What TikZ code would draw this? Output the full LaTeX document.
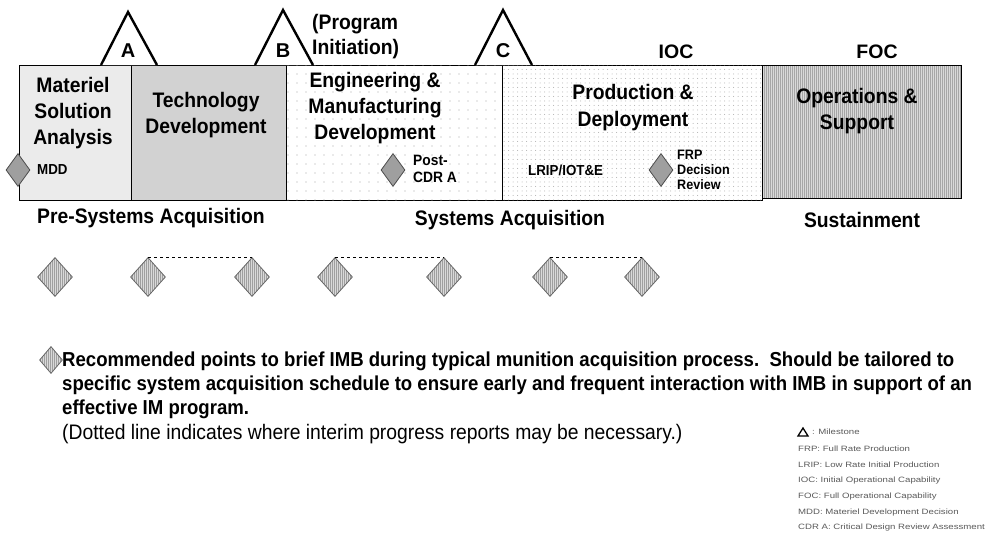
\documentclass[tikz,border=0pt]{standalone}
\usepackage{fontspec}
\setmainfont{Liberation Sans}
\newfontfamily\narrowfont[FakeStretch=0.92]{Liberation Sans}
\newfontfamily\widefont[FakeStretch=1.25]{Liberation Sans}
\usetikzlibrary{
    positioning,
    shapes.geometric,
    patterns.meta,
    calc
}

\begin{document}
\begin{tikzpicture}[
    x=1pt, y=-1pt,
    phasebox/.style={draw, line width=1.4pt, minimum height=135pt, inner sep=0pt, anchor=north west},
    phaselabel/.style={font=\fontsize{21}{26}\selectfont\narrowfont\bfseries, align=center, anchor=north, inner sep=0pt},
    smalllabel/.style={font=\fontsize{15}{17}\selectfont\narrowfont\bfseries, align=left, anchor=west, inner sep=0pt},
    eralabel/.style={font=\fontsize{21}{24}\selectfont\narrowfont\bfseries, inner sep=0pt},
    decision/.style={diamond, draw=black!70, fill=gray!75, line width=0.8pt, minimum width=24pt, minimum height=33pt, inner sep=0pt},
    briefpoint/.style={diamond, draw=black!60, line width=0.8pt, minimum width=35pt, minimum height=39pt, inner sep=0pt,
        preaction={fill=gray!30}, pattern={Lines[angle=90, distance=2pt, line width=0.6pt]}, pattern color=gray!75},
    milestone/.style={draw, line width=2.4pt, fill=white, line join=miter},
    msletter/.style={font=\fontsize{20}{20}\selectfont\bfseries, inner sep=0pt},
    interim/.style={dashed, line width=1pt},
    legend/.style={font=\fontsize{7.7}{9}\selectfont\widefont, text=gray!70!black, anchor=west, inner sep=0pt}
]
\useasboundingbox (0,0) rectangle (985,533);

% Phase bar
\node[phasebox, fill=gray!16, minimum width=112pt] (msa) at (19,65) {};
\node[phasebox, fill=gray!35, minimum width=155pt] (td) at (131,65) {};
\node[phasebox, fill=white, minimum width=216pt,
    postaction={pattern={Dots[distance=9pt, radius=0.55pt]}, pattern color=gray!70}] (emd) at (286,65) {};
\node[phasebox, fill=white, minimum width=260pt,
    postaction={pattern={Dots[distance=4.5pt, radius=0.5pt]}, pattern color=gray!65}] (pd) at (502,65) {};
\node[phasebox, minimum width=199pt, minimum height=133pt, preaction={fill=gray!30},
    pattern={Lines[angle=90, distance=2pt, line width=0.6pt]}, pattern color=gray!70] (os) at (762,65) {};

\node[phaselabel] (msa-txt) at (73,77) {Materiel\\Solution\\Analysis};
\node[phaselabel] (td-txt) at (206,92) {Technology\\Development};
\node[phaselabel] (emd-txt) at (375,72) {Engineering \&\\Manufacturing\\Development};
\node[phaselabel, font=\fontsize{21}{27}\selectfont\narrowfont\bfseries] (pd-txt) at (633,84) {Production \&\\Deployment};
\node[phaselabel] (os-txt) at (857,88) {Operations \&\\Support};

% Decision points inside the bar
\node[decision] (mdd) at (18,170) {};
\node[smalllabel, font=\fontsize{14.5}{17}\selectfont\narrowfont\bfseries] (mdd-txt) at (37,170) {MDD};
\node[decision] (pcdra) at (393,170) {};
\node[smalllabel] (pcdra-txt) at (413,169) {Post-\\CDR A};
\node[smalllabel, font=\fontsize{14.5}{17}\selectfont\narrowfont\bfseries] (lrip) at (528,170) {LRIP/IOT\&E};
\node[decision] (frp) at (661,170) {};
\node[smalllabel, font=\fontsize{13.7}{15}\selectfont\narrowfont\bfseries] (frp-txt) at (677,170) {FRP\\Decision\\Review};

% Milestones
\draw[milestone] (101,65) -- (128,12) -- (157,65);
\node[msletter] (ms-a) at (128,51) {A};
\draw[milestone] (255,65) -- (283,10) -- (313,65);
\node[msletter] (ms-b) at (283,51) {B};
\node[font=\fontsize{21}{25}\selectfont\narrowfont\bfseries, align=left, anchor=west, inner sep=0pt] (prog-init) at (312,37) {(Program\\Initiation)};
\draw[milestone] (475,65) -- (503,10) -- (532,65);
\node[msletter] (ms-c) at (503,51) {C};
\node[font=\fontsize{19.5}{20}\selectfont\bfseries] (ioc) at (676,52) {IOC};
\node[font=\fontsize{19.5}{20}\selectfont\bfseries] (foc) at (877,52) {FOC};

% Acquisition eras
\node[eralabel] (pre-sys) at (151,218) {Pre-Systems Acquisition};
\node[eralabel] (sys) at (510,220) {Systems Acquisition};
\node[eralabel] (sustain) at (862,220) {Sustainment};

% Recommended IMB brief points
\node[briefpoint] (bp1) at (55,277) {};
\node[briefpoint] (bp2) at (148,277) {};
\node[briefpoint] (bp3) at (252,277) {};
\node[briefpoint] (bp4) at (335,277) {};
\node[briefpoint] (bp5) at (444,277) {};
\node[briefpoint] (bp6) at (550,277) {};
\node[briefpoint] (bp7) at (642,277) {};

\draw[interim] (bp2.north) -- (bp3.north);
\draw[interim] (bp4.north) -- (bp5.north);
\draw[interim] (bp6.north) -- (bp7.north);

% Explanation
\node[briefpoint, minimum width=23pt, minimum height=27pt] (bp-key) at (51,360) {};
\node[font=\fontsize{20.2}{24}\selectfont\narrowfont\bfseries, align=left, anchor=north west, inner sep=0pt] (note) at (62,352)
    {Recommended points to brief IMB during typical munition acquisition process.\ \ Should be tailored to\\
     specific system acquisition schedule to ensure early and frequent interaction with IMB in support of an\\
     effective IM program.};
\node[font=\fontsize{21}{24}\selectfont\narrowfont, anchor=north west, inner sep=0pt] (dotted-note) at (62,424)
    {(Dotted line indicates where interim progress reports may be necessary.)};

% Legend
\draw[line width=1.3pt, fill=white] (798,436) -- (803,428) -- (808,436) -- cycle;
\node[legend] (lg-ms) at (812,432) {: Milestone};
\node[legend] (lg-frp) at (798,449) {FRP: Full Rate Production};
\node[legend] (lg-lrip) at (798,465) {LRIP: Low Rate Initial Production};
\node[legend] (lg-ioc) at (798,481) {IOC: Initial Operational Capability};
\node[legend] (lg-foc) at (798,497) {FOC: Full Operational Capability};
\node[legend] (lg-mdd) at (798,513) {MDD: Materiel Development Decision};
\node[legend] (lg-cdr) at (798,528) {CDR A: Critical Design Review Assessment};

\end{tikzpicture}
\end{document}
